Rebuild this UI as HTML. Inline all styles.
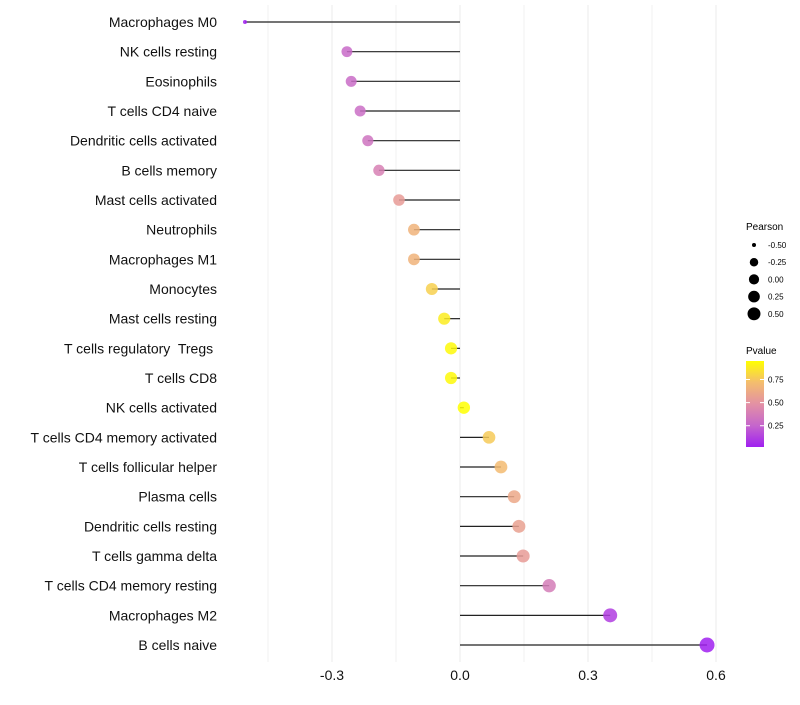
<!DOCTYPE html>
<html><head><meta charset="utf-8"><style>
body{margin:0;background:#fff;font-family:"Liberation Sans",sans-serif}
text{white-space:pre}
</style></head><body>
<svg id="c" width="800" height="700" xmlns="http://www.w3.org/2000/svg">
<defs><linearGradient id="pg" x1="0" y1="1" x2="0" y2="0">
<stop offset="0" stop-color="#a020f0"/><stop offset="0.25" stop-color="#c566cc"/><stop offset="0.5" stop-color="#e391a4"/><stop offset="0.75" stop-color="#f4bd6e"/><stop offset="1" stop-color="#ffff00"/>
</linearGradient></defs>
<g id="grid"></g>
<g id="marks"></g>
<g id="labels"></g>
<g font-size="10">
<text x="746" y="230">Pearson</text>
<g id="sizeleg"></g>
</g>
<g font-size="10">
<text x="746" y="354">Pvalue</text>
<rect x="746" y="361" width="18" height="86" fill="url(#pg)"/>
<g id="cleg"></g>
</g>
</svg>
<script>
const categories=["Macrophages M0","NK cells resting","Eosinophils","T cells CD4 naive","Dendritic cells activated","B cells memory","Mast cells activated","Neutrophils","Macrophages M1","Monocytes","Mast cells resting","T cells regulatory  Tregs ","T cells CD8","NK cells activated","T cells CD4 memory activated","T cells follicular helper","Plasma cells","Dendritic cells resting","T cells gamma delta","T cells CD4 memory resting","Macrophages M2","B cells naive"];
const pearson=[-0.504,-0.265,-0.255,-0.234,-0.216,-0.19,-0.143,-0.108,-0.108,-0.066,-0.037,-0.021,-0.021,0.009,0.068,0.096,0.127,0.138,0.148,0.209,0.352,0.579];
const pvalue=[0.02,0.28,0.29,0.3,0.33,0.4,0.55,0.68,0.68,0.8,0.9,0.95,0.95,0.98,0.78,0.72,0.62,0.58,0.55,0.38,0.12,0.02];
const xTicks=[-0.3,0.0,0.3,0.6];
const xTickLabels=["-0.3","0.0","0.3","0.6"];
const sizeLegendVals=[-0.5,-0.25,0,0.25,0.5];
const sizeLegendLabels=["-0.50","-0.25","0.00","0.25","0.50"];
const colorTicks=[0.25,0.5,0.75];
const NS="http://www.w3.org/2000/svg";
const x=v=>460+v*426.67;
const y=i=>22+i*29.667;
const r=v=>{let r2=38+31*v;if(v<-0.3)r2=28.7+(v+0.3)*123;return Math.sqrt(Math.max(4,r2));};
const rl=v=>{let r2=26+32*v;if(v<-0.3)r2=16.4+(v+0.3)*62;return Math.sqrt(Math.max(4,r2));};
const stops=[[0,[160,32,240]],[0.25,[197,102,204]],[0.5,[227,145,164]],[0.75,[244,189,110]],[1,[255,255,0]]];
function col(p){const t=Math.max(0,Math.min(1,(p-0.02)/0.95));for(let k=1;k<stops.length;k++){if(t<=stops[k][0]){const a=stops[k-1],b=stops[k],f=(t-a[0])/(b[0]-a[0]);return "rgb("+a[1].map((c,j)=>Math.round(c+(b[1][j]-c)*f)).join(",")+")";}}return "rgb(255,255,0)";}
function mk(t,at,p){const e=document.createElementNS(NS,t);for(const k in at)e.setAttribute(k,at[k]);p.appendChild(e);return e;}
const grid=document.getElementById('grid'),marks=document.getElementById('marks'),labels=document.getElementById('labels');
[-0.45,-0.15,0.15,0.45].forEach(v=>{const l=mk('line',{x1:x(v),x2:x(v),y1:5,y2:662,stroke:'#f2f2f2','stroke-width':1},grid);

});
xTicks.forEach((v,i)=>{const l=mk('line',{x1:x(v),x2:x(v),y1:5,y2:662,stroke:'#ebebeb','stroke-width':1},grid);


const t=mk('text',{x:x(v),y:680,'text-anchor':'middle','font-size':14,fill:'#111'},labels);t.textContent=xTickLabels[i];

});
categories.forEach((c,i)=>{
const l=mk('line',{x1:x(0),x2:x(pearson[i]),y1:y(i),y2:y(i),stroke:'#222','stroke-width':1.2},marks);


const d=mk('circle',{cx:x(pearson[i]),cy:y(i),r:r(pearson[i]),fill:col(pvalue[i]),'fill-opacity':0.85},marks);


const t=mk('text',{x:217,y:y(i)+5,'text-anchor':'end','font-size':14,fill:'#111'},labels);t.textContent=c;

});
const sl=document.getElementById('sizeleg');
sizeLegendVals.forEach((v,i)=>{const yy=245+i*17.2;
const d=mk('circle',{cx:754,cy:yy,r:rl(v),fill:'#000'},sl);


const t=mk('text',{x:768,y:yy+3,'font-size':8},sl);t.textContent=sizeLegendLabels[i];

});
const cl=document.getElementById('cleg');
colorTicks.forEach(v=>{const yy=447-(v-0.02)/0.93*86;
const a=mk('line',{x1:746,x2:750,y1:yy,y2:yy,stroke:'#fff'},cl);


const b=mk('line',{x1:760,x2:764,y1:yy,y2:yy,stroke:'#fff'},cl);


const t=mk('text',{x:768,y:yy+3,'font-size':8},cl);t.textContent=v.toFixed(2);

});
</script>
</body></html>
